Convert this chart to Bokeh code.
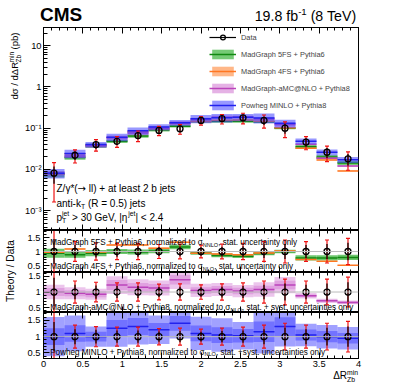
import math
import html as htmlmod
from bokeh.plotting import figure
from bokeh.layouts import column, row
from bokeh.models import (ColumnDataSource, Label, Legend, LegendItem, Span, LinearAxis, Div,
                          Range1d, FixedTicker, CustomJSTickFormatter)
from bokeh.embed import file_html
from bokeh.resources import INLINE

FONT = "Liberation Sans"

# ---------------- data ----------------
bin_edges = [0.0, 0.267, 0.533, 0.8, 1.067, 1.333, 1.6, 1.867, 2.133, 2.4, 2.667, 2.933, 3.2, 3.467, 3.733, 4.0]
data_xsec = [0.0081, 0.022, 0.040, 0.048, 0.066, 0.088, 0.096, 0.154, 0.170, 0.178, 0.154, 0.100, 0.046, 0.026, 0.018]
data_rel_tot = [0.80, 0.35, 0.31, 0.29, 0.29, 0.25, 0.26, 0.23, 0.26, 0.29, 0.35, 0.41, 0.35, 0.41, 0.47]
data_rel_stat = [0.45, 0.23, 0.21, 0.19, 0.19, 0.16, 0.17, 0.15, 0.17, 0.19, 0.23, 0.27, 0.23, 0.27, 0.31]

ratio_5fs = [0.94, 0.88, 0.94, 1.00, 0.98, 1.02, 1.16, 0.94, 0.86, 0.83, 0.93, 1.00, 0.77, 0.77, 0.79]
ratio_5fs_stat = [0.17, 0.12, 0.12, 0.09, 0.09, 0.08, 0.07, 0.06, 0.08, 0.08, 0.07, 0.06, 0.12, 0.12, 0.12]
ratio_4fs = [0.97, 1.09, 0.98, 1.23, 1.23, 1.12, 1.33, 0.94, 0.91, 0.88, 0.95, 1.02, 0.71, 0.65, 0.51]
ratio_4fs_stat = [0.02, 0.02, 0.02, 0.02, 0.02, 0.02, 0.02, 0.02, 0.02, 0.02, 0.02, 0.02, 0.02, 0.02, 0.02]
ratio_amc = [1.00, 0.96, 0.93, 1.22, 1.15, 1.13, 1.39, 1.05, 1.08, 1.03, 1.08, 1.22, 0.88, 0.72, 0.67]
ratio_amc_stat = [0.13, 0.10, 0.10, 0.13, 0.12, 0.11, 0.11, 0.10, 0.10, 0.10, 0.11, 0.11, 0.05, 0.05, 0.05]
ratio_amc_tot = [0.23, 0.20, 0.19, 0.23, 0.22, 0.21, 0.21, 0.20, 0.19, 0.19, 0.21, 0.21, 0.10, 0.09, 0.09]
ratio_pow = [1.00, 1.10, 1.00, 1.26, 1.31, 1.21, 1.41, 1.10, 1.05, 1.03, 1.15, 1.31, 1.05, 1.00, 0.95]
ratio_pow_stat = [0.26, 0.23, 0.15, 0.20, 0.20, 0.17, 0.16, 0.22, 0.23, 0.20, 0.27, 0.22, 0.16, 0.17, 0.17]
ratio_pow_tot = [0.60, 0.50, 0.31, 0.45, 0.42, 0.36, 0.33, 0.46, 0.49, 0.41, 0.58, 0.47, 0.33, 0.36, 0.36]

legend_labels = ["Data", "MadGraph 5FS + Pythia6", "MadGraph 4FS + Pythia6",
                 "MadGraph-aMC@NLO + Pythia8", "Powheg MINLO + Pythia8"]
x_major = [0, 0.5, 1, 1.5, 2, 2.5, 3, 3.5, 4]
y_log_major = [1e-3, 1e-2, 1e-1, 1, 10]
ratio_major = [0.5, 1, 1.5]

# ---------------- colours ----------------
G_FILL, G_LINE = "#3cb33c", "#118811"
O_FILL, O_LINE = "#ff9955", "#ff7722"
M_FILL, M_LINE = "#cc66cc", "#bb44bb"
B_FILL, B_LINE = "#4444ff", "#2222ee"

# ---------------- geometry (page pixels, page margin is 0) ----------------
STRIP = 22            # left strip holding the rotated axis titles
FL, FR = 40, 358      # frame left / right
TOTAL_W = FR + 12
MAIN_TOP, MAIN_BOT = 27, 230
R1_BOT, R2_BOT, R3_BOT = 272, 312, 358
R3_LABELS = 13
PAGE_BOT = 383
COL_W = TOTAL_W - STRIP
NBSP = "\u00a0"

# ---------------- text helpers ----------------
W = {' ': 278, '!': 278, '(': 333, ')': 333, '*': 389, '+': 584, ',': 278, '-': 333, '.': 278, '/': 278,
     ':': 278, '<': 584, '=': 584, '>': 584, '@': 1015, '|': 260,
     'A': 667, 'B': 667, 'C': 722, 'D': 722, 'E': 667, 'F': 611, 'G': 778, 'H': 722, 'I': 278, 'J': 500,
     'K': 667, 'L': 556, 'M': 833, 'N': 722, 'O': 778, 'P': 667, 'Q': 778, 'R': 722, 'S': 667, 'T': 611,
     'U': 722, 'V': 667, 'W': 944, 'X': 667, 'Y': 667, 'Z': 611,
     'a': 556, 'b': 556, 'c': 500, 'd': 556, 'e': 556, 'f': 278, 'g': 556, 'h': 556, 'i': 222, 'j': 222,
     'k': 500, 'l': 222, 'm': 833, 'n': 556, 'o': 556, 'p': 556, 'q': 556, 'r': 333, 's': 500, 't': 278,
     'u': 556, 'v': 500, 'w': 722, 'x': 500, 'y': 500, 'z': 500,
     'σ': 570, 'η': 556, 'γ': 500, '→': 838, 'Δ': 668}


def tw(s, size):
    return sum(W.get(c, 556) for c in s) * size / 1000.0


def part_width(p, size):
    small = size * 0.68
    if p[0] == "n":
        return tw(p[1], size)
    if p[0] in ("sub", "sup"):
        return tw(p[1], small)
    return max(tw(p[1], small), tw(p[2], small))


def keep_spaces(s):
    """Leading/trailing blanks would be collapsed by the renderer: make them non-breaking."""
    core = s.strip(" ")
    lead = len(s) - len(s.lstrip(" "))
    trail = len(s) - len(s.rstrip(" "))
    return NBSP * lead + core + NBSP * trail


def rich(fig, fl, fb, px, py, parts, size, align="left"):
    """Labels inside a plot frame (screen units relative to the frame)."""
    small = size * 0.68
    total = sum(part_width(p, size) for p in parts)
    pos = px - {"left": 0.0, "center": total / 2.0, "right": total}[align]
    def put(text, fsize, dy, at, font=FONT):
        fig.add_layout(Label(x=at - fl, y=fb - py + dy, x_units="screen", y_units="screen",
                             text=keep_spaces(text),
                             text_font=font, text_font_size=f"{fsize:.2f}px",
                             text_color="black", text_align="left", text_baseline="alphabetic"))
    for p in parts:
        if p[0] == "n":
            put(p[1], size, 0.0, pos, p[2] if len(p) > 2 else FONT)
        elif p[0] == "sub":
            put(p[1], small, -0.28 * size, pos)
        elif p[0] == "sup":
            put(p[1], small, 0.42 * size, pos)
        else:
            put(p[1], small, 0.42 * size, pos)
            put(p[2], small, -0.30 * size, pos)
        pos += part_width(p, size)


def hspan(text, x, base, size, bold=False):
    top = base - 0.8465 * size
    weight = "bold" if bold else "normal"
    return (f'<span style="position:absolute;left:{x:.2f}px;top:{top:.2f}px;'
            f"font:{weight} {size:.2f}px/{size:.2f}px '{FONT}', sans-serif;"
            f'white-space:pre;color:black;">{htmlmod.escape(text)}</span>')


def html_rich(x, base, parts, size, align="left", bold=False):
    """Absolutely placed spans in a div (page y grows downward)."""
    small = size * 0.68
    total = sum(part_width(p, size) for p in parts)
    pos = x - {"left": 0.0, "center": total / 2.0, "right": total}[align]
    out = []
    for p in parts:
        if p[0] == "n":
            out.append(hspan(p[1], pos, base, size, bold))
        elif p[0] == "sub":
            out.append(hspan(p[1], pos, base + 0.28 * size, small))
        elif p[0] == "sup":
            out.append(hspan(p[1], pos, base - 0.42 * size, small))
        else:
            out.append(hspan(p[1], pos, base - 0.42 * size, small))
            out.append(hspan(p[2], pos, base + 0.30 * size, small))
        pos += part_width(p, size)
    return "".join(out)


def text_div(width, height, inner):
    return Div(text=f'<div style="position:relative;width:{width}px;height:{height}px;overflow:visible;">'
                    f'{inner}</div>', width=width, height=height, margin=0,
               styles={"overflow": "visible"})


def style_axis(ax, labels=True, size="9.3px", major=6, minor=3, standoff=3):
    ax.axis_line_color = "black"
    ax.major_tick_line_color = "black"
    ax.minor_tick_line_color = "black"
    ax.major_tick_in = major
    ax.major_tick_out = 0
    ax.minor_tick_in = minor
    ax.minor_tick_out = 0
    ax.major_label_text_font = FONT
    ax.major_label_text_color = "black"
    ax.major_label_text_font_size = size
    ax.major_label_standoff = standoff
    if not labels:
        ax.major_label_text_font_size = "0px"
        ax.major_label_standoff = 0
        ax.formatter = CustomJSTickFormatter(code="return '';")


plain_fmt = "return String(Math.round(tick * 100) / 100);"
log_fmt = """
const e = Math.round(Math.log10(tick));
if (e == 0) return '1';
if (e == 1) return '10';
const sup = {'-': '\u207b', '0': '\u2070', '1': '\u00b9', '2': '\u00b2', '3': '\u00b3', '4': '\u2074'};
return '10' + String(e).split('').map(c => sup[c]).join('');
"""
x_minor = [i / 10 for i in range(0, 41)]
ratio_minor = [0.3 + i / 10 for i in range(0, 15)]
log_minor = [k * 10.0 ** e for e in range(-4, 2) for k in range(2, 10)]

n = len(data_xsec)
lefts = bin_edges[:-1]
rights = bin_edges[1:]
centers = [(a + b) / 2 for a, b in zip(lefts, rights)]


def new_fig(height, top, bottom, y_range, y_type="linear"):
    f = figure(width=COL_W, height=height, x_range=Range1d(0, 4), y_range=y_range, y_axis_type=y_type,
               toolbar_location=None, output_backend="svg", min_border_top=top, min_border_bottom=bottom,
               min_border_left=FL - STRIP, min_border_right=TOTAL_W - FR)
    f.grid.visible = False
    f.outline_line_color = "black"
    f.outline_line_width = 1
    f.background_fill_color = "white"
    f.border_fill_color = "white"
    return f


def band_source(mid_vals, rel, scale_vals=None):
    base = scale_vals if scale_vals is not None else [1.0] * n
    mid = [b * m for b, m in zip(base, mid_vals)]
    return ColumnDataSource(dict(left=lefts, right=rights, mid=mid,
                                 lo=[m * (1 - e) for m, e in zip(mid, rel)],
                                 hi=[m * (1 + e) for m, e in zip(mid, rel)]))


def draw_data(f, vals):
    src = ColumnDataSource(dict(x=centers, y=vals,
                                tlo=[v * (1 - e) for v, e in zip(vals, data_rel_tot)],
                                thi=[v * (1 + e) for v, e in zip(vals, data_rel_tot)],
                                slo=[v * (1 - e) for v, e in zip(vals, data_rel_stat)],
                                shi=[v * (1 + e) for v, e in zip(vals, data_rel_stat)]))
    f.segment(x0="x", y0="tlo", x1="x", y1="thi", source=src, line_color="#ee1111", line_width=1.2)
    f.scatter(x="x", y="tlo", source=src, marker="dash", size=4, line_color="#ee1111", line_width=1.2)
    f.scatter(x="x", y="thi", source=src, marker="dash", size=4, line_color="#ee1111", line_width=1.2)
    rs = f.segment(x0="x", y0="slo", x1="x", y1="shi", source=src, line_color="black", line_width=1.2)
    rc = f.scatter(x="x", y="y", source=src, marker="circle", size=6, line_color="black",
                   line_width=1.3, fill_alpha=0)
    return rs, rc


# ---------------- header (HTML text) ----------------
header_html = (html_rich(FL, 21, [("n", "CMS")], 19, bold=True) +
               html_rich(FR, 20.7, [("n", "19.8 fb"), ("sup", "-1"), ("n", " (8 TeV)")], 14.2, align="right"))
header = text_div(TOTAL_W, MAIN_TOP, header_html)

# ---------------- main panel ----------------
main = new_fig(MAIN_BOT - MAIN_TOP, 0, 0, Range1d(3.3e-4, 27.5), "log")
style_axis(main.yaxis[0], True, "9.3px", 7, 4, standoff=2)
main.yaxis[0].ticker = FixedTicker(ticks=y_log_major, minor_ticks=log_minor)
main.yaxis[0].formatter = CustomJSTickFormatter(code=log_fmt)
style_axis(main.xaxis[0], False, major=6, minor=3)
main.xaxis[0].ticker = FixedTicker(ticks=x_major, minor_ticks=x_minor)
top_ax = LinearAxis(ticker=FixedTicker(ticks=x_major, minor_ticks=x_minor))
style_axis(top_ax, False, major=6, minor=3)
main.add_layout(top_ax, "above")

models_main = [(ratio_5fs, ratio_5fs_stat, G_FILL, G_LINE, 0.7),
               (ratio_4fs, ratio_4fs_stat, O_FILL, O_LINE, 0.7),
               (ratio_amc, ratio_amc_stat, M_FILL, M_LINE, 0.5),
               (ratio_pow, ratio_pow_stat, B_FILL, B_LINE, 0.55)]
model_renderers = []
for r, s, fc, lc, a in models_main:
    src = band_source(r, s, data_xsec)
    q = main.quad(left="left", right="right", bottom="lo", top="hi", source=src,
                  fill_color=fc, fill_alpha=a, line_color=None)
    l = main.segment(x0="left", y0="mid", x1="right", y1="mid", source=src, line_color=lc, line_width=1.5)
    model_renderers.append([q, l])
rs, rc = draw_data(main, data_xsec)

items = [LegendItem(label=legend_labels[0], renderers=[rs, rc])]
for lab, rr in zip(legend_labels[1:], model_renderers):
    items.append(LegendItem(label=lab, renderers=rr))
leg = Legend(items=items, location=(166, 119), orientation="vertical", padding=0, margin=0,
             spacing=5, glyph_width=27, glyph_height=12, label_height=12, label_width=20,
             label_standoff=5, label_text_font=FONT, label_text_font_size="7.4px",
             border_line_color=None, background_fill_alpha=0)
main.add_layout(leg)

rich(main, FL, MAIN_BOT, 53, 188.3, [("n", "Z/γ*("), ("n", "→", "DejaVu Sans"), ("n", " ll) + at least 2 b jets")], 10.0)
rich(main, FL, MAIN_BOT, 53, 203.3, [("n", "anti-k"), ("sub", "T"), ("n", " (R = 0.5) jets")], 10.0)
rich(main, FL, MAIN_BOT, 53, 216.8, [("n", "p"), ("stack", "jet", "T"), ("n", " > 30 GeV, |η"),
                                     ("sup", "jet"), ("n", "| < 2.4")], 10.0)


# ---------------- ratio panels ----------------
def ratio_fig(top_page, bot_page, bottom_border, labels_x, y0, y1, ylab_size="9.3px"):
    f = new_fig(bot_page - top_page + bottom_border, 0, bottom_border, Range1d(y0, y1))
    style_axis(f.yaxis[0], True, ylab_size, 6, 3)
    f.yaxis[0].ticker = FixedTicker(ticks=ratio_major, minor_ticks=ratio_minor)
    f.yaxis[0].formatter = CustomJSTickFormatter(code=plain_fmt)
    style_axis(f.xaxis[0], labels_x, "9.3px", 6, 3, standoff=2)
    f.xaxis[0].ticker = FixedTicker(ticks=x_major, minor_ticks=x_minor)
    if labels_x:
        f.xaxis[0].formatter = CustomJSTickFormatter(code=plain_fmt)
    ta = LinearAxis(ticker=FixedTicker(ticks=x_major, minor_ticks=x_minor))
    style_axis(ta, False, major=6, minor=3)
    f.add_layout(ta, "above")
    f.add_layout(Span(location=1.0, dimension="width", line_color="#bbbbbb", line_width=1))
    return f


ones = [1.0] * n
r1 = ratio_fig(MAIN_BOT, R1_BOT, 0, False, 0.25, 1.75)
s5 = band_source(ratio_5fs, ratio_5fs_stat)
r1.quad(left="left", right="right", bottom="lo", top="hi", source=s5, fill_color=G_FILL, fill_alpha=0.75, line_color=None)
r1.segment(x0="left", y0="mid", x1="right", y1="mid", source=s5, line_color=G_LINE, line_width=1.5)
s4 = band_source(ratio_4fs, ratio_4fs_stat)
r1.quad(left="left", right="right", bottom="lo", top="hi", source=s4, fill_color=O_FILL, fill_alpha=0.6, line_color=None)
r1.segment(x0="left", y0="mid", x1="right", y1="mid", source=s4, line_color=O_LINE, line_width=1.5)
draw_data(r1, ones)
rich(r1, FL, R1_BOT, 46.7, 242, [("n", "MadGraph 5FS + Pythia6, normalized to σ"), ("sub", "NNLO"),
                                 ("n", ", stat. uncertainty only")], 8.15)
rich(r1, FL, R1_BOT, 46.7, 266.3, [("n", "MadGraph 4FS + Pythia6, normalized to σ"), ("sub", "NLO"),
                                   ("n", ", stat. uncertainty only")], 8.15)

r2 = ratio_fig(R1_BOT, R2_BOT, 0, False, 0.35, 1.62, ylab_size="8.6px")
for rel in (ratio_amc_tot, ratio_amc_stat):
    sa = band_source(ratio_amc, rel)
    r2.quad(left="left", right="right", bottom="lo", top="hi", source=sa, fill_color=M_FILL, fill_alpha=0.38, line_color=None)
r2.segment(x0="left", y0="mid", x1="right", y1="mid", source=band_source(ratio_amc, ratio_amc_stat),
           line_color=M_LINE, line_width=1.5)
draw_data(r2, ones)
rich(r2, FL, R2_BOT, 46.7, 306.8, [("n", "MadGraph-aMC@NLO + Pythia8, normalized to σ"), ("sub", "NLO"),
                                   ("n", ", stat. + syst. uncertainties only")], 8.15)

r3 = ratio_fig(R2_BOT, R3_BOT, R3_LABELS, True, 0.33, 1.74)
for rel in (ratio_pow_tot, ratio_pow_stat):
    sb = band_source(ratio_pow, rel)
    r3.quad(left="left", right="right", bottom="lo", top="hi", source=sb, fill_color=B_FILL, fill_alpha=0.5, line_color=None)
r3.segment(x0="left", y0="mid", x1="right", y1="mid", source=band_source(ratio_pow, ratio_pow_stat),
           line_color=B_LINE, line_width=1.5)
draw_data(r3, ones)
rich(r3, FL, R3_BOT, 46.7, 351.5, [("n", "Powheg MINLO + Pythia8, normalized to σ"), ("sub", "NLO"),
                                   ("n", ", stat. +syst. uncertainties only")], 8.15)

# ---------------- footer with x-axis title (HTML text) ----------------
FOOT_TOP = R3_BOT + R3_LABELS
footer = text_div(COL_W, PAGE_BOT - FOOT_TOP,
                  html_rich(FR - STRIP, 379.8 - FOOT_TOP, [("n", "ΔR"), ("stack", "min", "Zb")], 10.0,
                            align="right"))

# ---------------- left strip with rotated titles (HTML text, rotated container) ----------------
SH = PAGE_BOT - MAIN_TOP
strip_inner = (html_rich(SH - (66 - MAIN_TOP), 18.5, [("n", "dσ / dΔR"), ("stack", "min", "Zb"), ("n", " (pb)")],
                         9.5, align="center") +
               html_rich(SH - (271 - MAIN_TOP), 15, [("n", "Theory / Data")], 10.2, align="center"))
strip = text_div(STRIP, SH,
                 f'<div style="position:absolute;left:0;top:0;width:{SH}px;height:{STRIP}px;'
                 f'transform-origin:0 0;transform:translate(0px,{SH}px) rotate(-90deg);">{strip_inner}</div>')

layout = column(header,
                row(strip, column(main, r1, r2, r3, footer, spacing=0), spacing=0),
                spacing=0)

open("out.html", "w").write(file_html(layout, INLINE))
